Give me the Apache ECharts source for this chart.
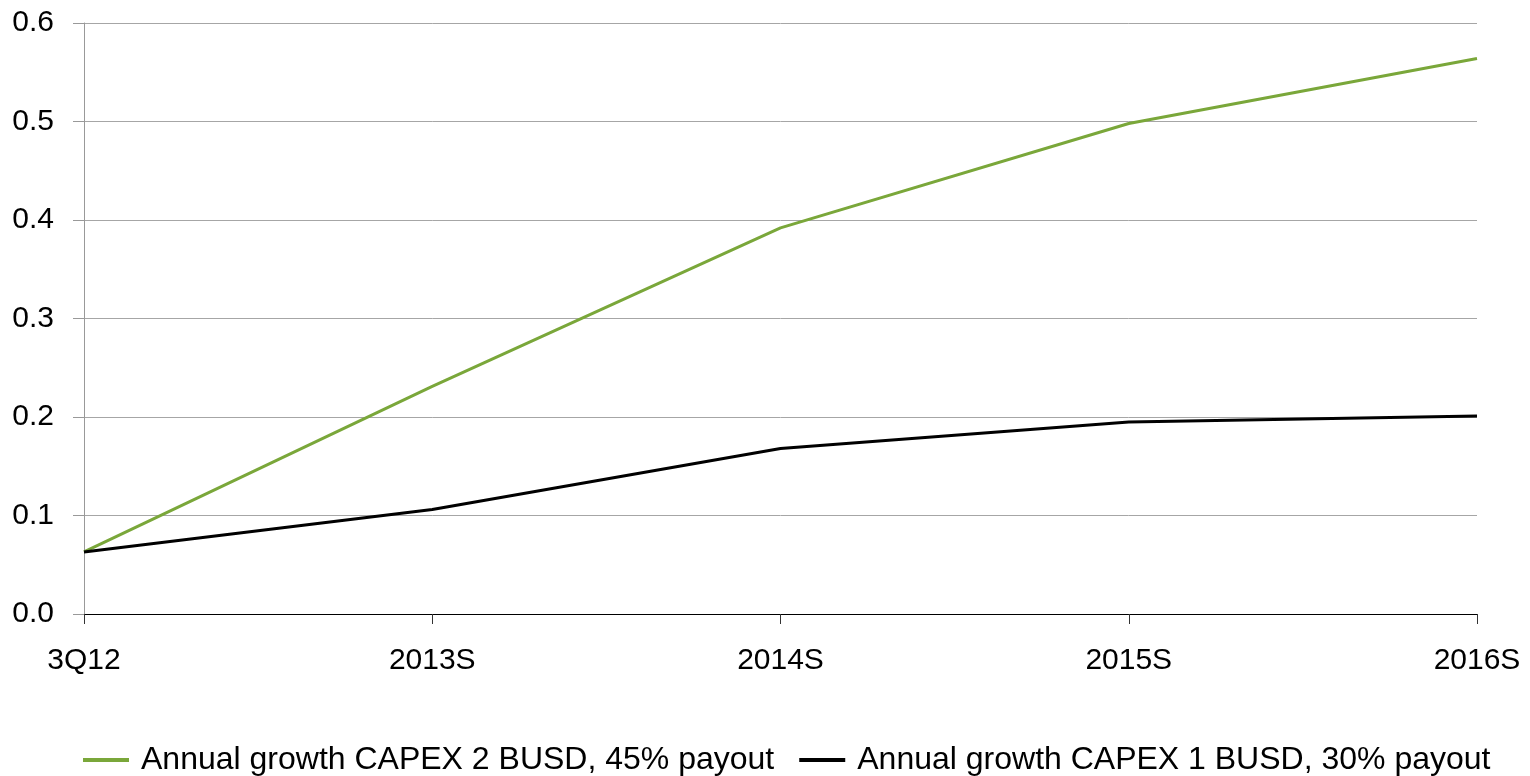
<!DOCTYPE html>
<html>
<head>
<meta charset="utf-8">
<script src="https://cdn.jsdelivr.net/npm/echarts@6/dist/echarts.min.js"></script>
<style>
  html, body { margin: 0; padding: 0; background: #fff; }
  #chart { width: 1530px; height: 776px; }
</style>
</head>
<body>
<div id="chart"></div>
<script>
// categories and series
const categories = ['3Q12', '2013S', '2014S', '2015S', '2016S']
const capex2 = [0.063, 0.231, 0.392, 0.498, 0.564]
const capex1 = [0.063, 0.106, 0.168, 0.195, 0.201]
const seriesNames = ['Annual growth CAPEX 2 BUSD, 45% payout', 'Annual growth CAPEX 1 BUSD, 30% payout']

const chart = echarts.init(document.getElementById('chart'))
const font = "'Liberation Sans', Arial, sans-serif"

chart.setOption({
  animation: false,
  textStyle: { fontFamily: font },
  grid: {
    left: 84,
    right: 53,
    top: 23,
    bottom: 162
  },
  legend: {
    left: 83,
    top: 744,
    padding: 0,
    itemGap: 25,
    itemWidth: 46,
    itemHeight: 4,
    icon: 'rect',
    textStyle: { fontSize: 32, color: '#000', fontFamily: font, padding: [0, 0, 0, 7] },
    data: seriesNames
  },
  xAxis: {
    type: 'category',
    data: categories,
    boundaryGap: false,
    axisLine: { lineStyle: { color: '#000', width: 1 } },
    axisTick: { show: true, length: 10, alignWithLabel: true, lineStyle: { color: '#333' } },
    axisLabel: { fontSize: 30, color: '#000', margin: 32, fontFamily: font }
  },
  yAxis: {
    type: 'value',
    min: 0,
    max: 0.6,
    interval: 0.1,
    axisLine: { show: true, lineStyle: { color: '#999' } },
    axisTick: { show: true, length: 11, lineStyle: { color: '#999' } },
    axisLabel: {
      fontSize: 30,
      color: '#000',
      margin: 30,
      fontFamily: font,
      formatter: v => v.toFixed(1)
    },
    splitLine: { lineStyle: { color: '#a6a6a6', width: 1 } }
  },
  series: [
    {
      name: seriesNames[0],
      type: 'line',
      data: capex2,
      showSymbol: false,
      symbol: 'none',
      lineStyle: { color: '#7aa73a', width: 3 },
      itemStyle: { color: '#7aa73a' }
    },
    {
      name: seriesNames[1],
      type: 'line',
      data: capex1,
      showSymbol: false,
      symbol: 'none',
      lineStyle: { color: '#000', width: 3 },
      itemStyle: { color: '#000' }
    }
  ]
})
</script>
</body>
</html>
